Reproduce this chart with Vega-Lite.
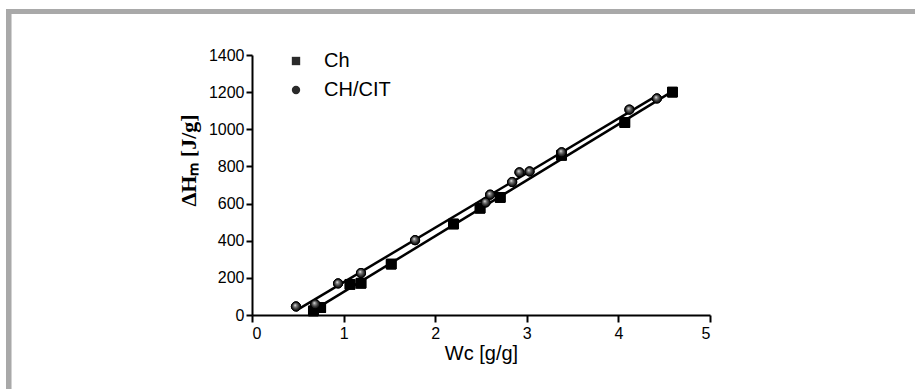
{
  "$schema": "https://vega.github.io/schema/vega-lite/v6.json",
  "autosize": {"type": "none"},
  "padding": {"left": 252, "top": 55, "right": 205, "bottom": 74},
  "width": 458,
  "height": 260,
  "background": "white",
  "config": {
    "view": {"stroke": null},
    "font": "Liberation Sans",
    "axis": {
      "labelOverlap": false,
      "labelFontSize": 16, "labelColor": "black",
      "domainColor": "black", "domainWidth": 2, "tickColor": "black", "tickWidth": 2,
      "grid": false, "titleColor": "black", "format": "d"
    },
    "axisX": {
      "values": [0, 1, 2, 3, 4, 5],
      "titleFontSize": 20, "titleFontWeight": "normal", "titleFont": "Liberation Sans",
      "titlePadding": 2, "labelPadding": 3, "tickSize": 7
    },
    "axisY": {
      "values": [0, 200, 400, 600, 800, 1000, 1200, 1400],
      "titleFont": "Liberation Serif", "titleFontSize": 22, "titleFontWeight": "bold",
      "titleY": 105, "titlePadding": 8, "labelPadding": 2, "tickSize": 6
    }
  },
  "data": {
    "values": [
      {"series": "Ch", "w": 0.67, "h": 22},
      {"series": "Ch", "w": 0.75, "h": 40},
      {"series": "Ch", "w": 1.07, "h": 165},
      {"series": "Ch", "w": 1.19, "h": 171},
      {"series": "Ch", "w": 1.52, "h": 274},
      {"series": "Ch", "w": 2.2, "h": 490},
      {"series": "Ch", "w": 2.49, "h": 575},
      {"series": "Ch", "w": 2.71, "h": 633},
      {"series": "Ch", "w": 3.38, "h": 860},
      {"series": "Ch", "w": 4.07, "h": 1036},
      {"series": "Ch", "w": 4.59, "h": 1200},
      {"series": "CH/CIT", "w": 0.48, "h": 46},
      {"series": "CH/CIT", "w": 0.69, "h": 58},
      {"series": "CH/CIT", "w": 0.94, "h": 170},
      {"series": "CH/CIT", "w": 1.19, "h": 226},
      {"series": "CH/CIT", "w": 1.78, "h": 403},
      {"series": "CH/CIT", "w": 2.55, "h": 606},
      {"series": "CH/CIT", "w": 2.6, "h": 648},
      {"series": "CH/CIT", "w": 2.84, "h": 716},
      {"series": "CH/CIT", "w": 2.92, "h": 768},
      {"series": "CH/CIT", "w": 3.03, "h": 773},
      {"series": "CH/CIT", "w": 3.38, "h": 876},
      {"series": "CH/CIT", "w": 4.12, "h": 1106},
      {"series": "CH/CIT", "w": 4.42, "h": 1166}
    ]
  },
  "layer": [
    {
      "mark": {"type": "point", "filled": true, "stroke": "black", "strokeWidth": 1, "opacity": 1},
      "encoding": {
        "x": {
          "field": "w", "type": "quantitative",
          "scale": {"domain": [0, 5], "nice": false, "zero": false},
          "axis": {"values": [0, 1, 2, 3, 4, 5], "title": "Wc [g/g]"}
        },
        "y": {
          "field": "h", "type": "quantitative",
          "scale": {"domain": [0, 1400], "nice": false},
          "axis": {"values": [0, 200, 400, 600, 800, 1000, 1200, 1400], "title": "ΔHₘ [J/g]"}
        },
        "shape": {
          "field": "series", "type": "nominal",
          "scale": {"domain": ["Ch", "CH/CIT"], "range": ["square", "circle"]},
          "legend": {
            "title": null, "orient": "none", "legendX": 34, "legendY": -4,
            "labelFontSize": 20, "labelColor": "black", "labelOffset": 18,
            "symbolSize": 70, "rowPadding": 9, "symbolFillColor": "black",
            "symbolStrokeColor": "black", "symbolStrokeWidth": 1
          }
        },
        "fill": {
          "condition": {"test": "datum.series === 'Ch'", "value": "#000000"},
          "value": "#2a2a2a"
        },
        "size": {
          "condition": {"test": "datum.series === 'Ch'", "value": 95},
          "value": 85
        }
      }
    },
    {
      "mark": {"type": "rect", "fill": null, "stroke": "#a9a9a9", "strokeWidth": 5, "clip": false},
      "encoding": {
        "x": {"datum": -2.658, "type": "quantitative", "axis": {"values": [0, 1, 2, 3, 4, 5], "title": "Wc [g/g]"}},
        "x2": {"datum": 9.3},
        "y": {"datum": 1634, "type": "quantitative", "axis": {"values": [0, 200, 400, 600, 800, 1000, 1200, 1400], "title": "ΔHₘ [J/g]"}},
        "y2": {"datum": -1000}
      }
    },
    {
      "transform": [{"regression": "h", "on": "w", "groupby": ["series"]}],
      "mark": {"type": "line", "color": "black", "strokeWidth": 2.5},
      "encoding": {
        "x": {"field": "w", "type": "quantitative", "axis": {"values": [0, 1, 2, 3, 4, 5], "title": "Wc [g/g]"}},
        "y": {"field": "h", "type": "quantitative", "axis": {"values": [0, 200, 400, 600, 800, 1000, 1200, 1400], "title": "ΔHₘ [J/g]"}},
        "detail": {"field": "series"}
      }
    },
    {
      "mark": {"type": "point", "filled": true, "stroke": "black", "strokeWidth": 1, "opacity": 1, "shape": "square", "size": 95, "fill": "black"},
      "transform": [{"filter": "datum.series === 'Ch'"}],
      "encoding": {
        "x": {"field": "w", "type": "quantitative", "axis": {"values": [0, 1, 2, 3, 4, 5], "title": "Wc [g/g]"}},
        "y": {"field": "h", "type": "quantitative", "axis": {"values": [0, 200, 400, 600, 800, 1000, 1200, 1400], "title": "ΔHₘ [J/g]"}}
      }
    },
    {
      "transform": [{"filter": "datum.series === 'CH/CIT'"}],
      "mark": {
        "type": "point", "shape": "circle", "size": 85, "stroke": "black", "strokeWidth": 1, "opacity": 1,
        "fill": {"gradient": "radial", "x1": 0.4, "y1": 0.35, "r1": 0, "x2": 0.5, "y2": 0.5, "r2": 0.55,
                 "stops": [{"offset": 0, "color": "#ffffff"}, {"offset": 0.25, "color": "#8a8a8a"}, {"offset": 0.65, "color": "#303030"}, {"offset": 1, "color": "#000000"}]}
      },
      "encoding": {
        "x": {"field": "w", "type": "quantitative", "axis": {"values": [0, 1, 2, 3, 4, 5], "title": "Wc [g/g]"}},
        "y": {"field": "h", "type": "quantitative", "axis": {"values": [0, 200, 400, 600, 800, 1000, 1200, 1400], "title": "ΔHₘ [J/g]"}}
      }
    }
  ]
}
